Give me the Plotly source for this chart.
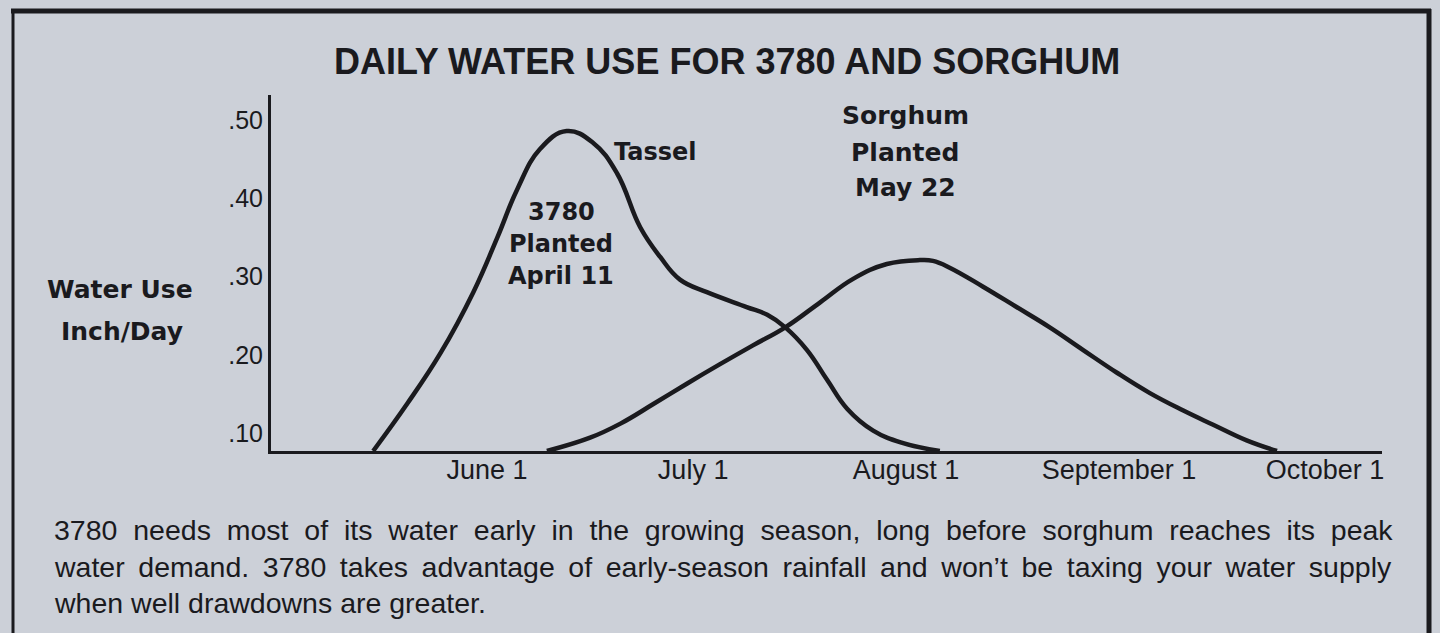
import plotly.graph_objects as go

# ---------------- data ----------------
dates_3780 = ["2023-05-15 10:00", "2023-05-20 10:00", "2023-05-25 05:00", "2023-05-30 00:00",
              "2023-06-02 12:00", "2023-06-05 10:00", "2023-06-08 17:00", "2023-06-12 14:00",
              "2023-06-16 10:00", "2023-06-19 22:00", "2023-06-23 07:00", "2023-06-26 05:00",
              "2023-06-29 02:00", "2023-07-03 00:00", "2023-07-08 19:00", "2023-07-11 19:00",
              "2023-07-14 10:00", "2023-07-17 14:00", "2023-07-20 12:00", "2023-07-23 10:00",
              "2023-07-27 05:00", "2023-07-31 14:00", "2023-08-05 22:00"]
use_3780 = [0.077, 0.138, 0.202, 0.280, 0.350, 0.412, 0.463, 0.486, 0.471, 0.432, 0.363, 0.325,
            0.296, 0.280, 0.261, 0.251, 0.235, 0.206, 0.168, 0.131, 0.103, 0.087, 0.077]

dates_sorghum = ["2023-06-09 17:00", "2023-06-16 00:00", "2023-06-20 10:00", "2023-06-25 05:00",
                 "2023-06-30 02:00", "2023-07-04 22:00", "2023-07-09 17:00", "2023-07-14 10:00",
                 "2023-07-19 12:00", "2023-07-24 07:00", "2023-07-29 05:00", "2023-08-03 00:00",
                 "2023-08-04 22:00", "2023-08-07 10:00", "2023-08-12 05:00", "2023-08-17 02:00",
                 "2023-08-21 22:00", "2023-08-26 19:00", "2023-08-31 17:00", "2023-09-05 12:00",
                 "2023-09-10 07:00", "2023-09-14 17:00", "2023-09-19 14:00", "2023-09-24 00:00"]
use_sorghum = [0.077, 0.094, 0.112, 0.137, 0.163, 0.188, 0.212, 0.235, 0.267, 0.297, 0.316, 0.321,
               0.320, 0.311, 0.287, 0.261, 0.235, 0.206, 0.177, 0.151, 0.129, 0.1105, 0.0905, 0.077]

x_tick_dates = ["2023-06-01", "2023-07-01", "2023-08-01", "2023-09-01", "2023-10-01"]
x_tick_labels = ["June 1", "July 1", "August 1", "September 1", "October 1"]
y_tick_values = [0.10, 0.20, 0.30, 0.40, 0.50]
y_tick_labels = [".10", ".20", ".30", ".40", ".50"]

title_text = "DAILY WATER USE FOR 3780 AND SORGHUM"
y_title_lines = ["Water Use", "Inch/Day"]
label_3780_lines = ["3780", "Planted", "April 11"]
label_sorghum_lines = ["Sorghum", "Planted", "May 22"]
label_tassel = "Tassel"
body_lines = [
    "3780 needs most of its water early in the growing season, long before sorghum reaches its peak",
    "water demand. 3780 takes advantage of early-season rainfall and won\u2019t be taxing your water supply",
    "when well drawdowns are greater.",
]
# extra word spacing used to imitate the justified paragraph of the original
body_word_gap = [" \u00a0", " \u2009", " "]

# ---------------- layout helpers ----------------
W, H = 1440, 633
L, R, T, B = 271, 1382, 95, 451          # plot area in pixels
BG = "#ccd0d8"
INK = "#1a1a1e"

def px(x):
    return (x - L) / (R - L)

def py(y):
    return (B - y) / (B - T)

fig = go.Figure()
fig.add_trace(go.Scatter(x=dates_3780, y=use_3780, mode="lines",
                         line=dict(color=INK, width=4.5, shape="spline", smoothing=1.2),
                         showlegend=False, hoverinfo="skip"))
fig.add_trace(go.Scatter(x=dates_sorghum, y=use_sorghum, mode="lines",
                         line=dict(color=INK, width=4.5, shape="spline", smoothing=1.2),
                         showlegend=False, hoverinfo="skip"))

SANS = "Liberation Sans, Arial, Helvetica, sans-serif"
BOLD = "DejaVu Sans, Verdana, sans-serif"

ann = []
ann.append(dict(text="<b>" + title_text + "</b>", x=px(727), y=py(61), xref="paper", yref="paper",
                xanchor="center", yanchor="middle", showarrow=False,
                font=dict(family=SANS, size=36, color=INK)))
for txt, yy, xx in zip(y_title_lines, [289, 331], [120, 122]):
    ann.append(dict(text="<b>" + txt + "</b>", x=px(xx), y=py(yy), xref="paper", yref="paper",
                    xanchor="center", yanchor="middle", showarrow=False,
                    font=dict(family=BOLD, size=25, color=INK)))
for txt, yy in zip(label_3780_lines, [212, 244, 276]):
    ann.append(dict(text="<b>" + txt + "</b>", x=px(561), y=py(yy), xref="paper", yref="paper",
                    xanchor="center", yanchor="middle", showarrow=False,
                    font=dict(family=BOLD, size=24, color=INK)))
for txt, yy in zip(label_sorghum_lines, [115, 152, 187]):
    ann.append(dict(text="<b>" + txt + "</b>", x=px(905), y=py(yy), xref="paper", yref="paper",
                    xanchor="center", yanchor="middle", showarrow=False,
                    font=dict(family=BOLD, size=25, color=INK)))
ann.append(dict(text="<b>" + label_tassel + "</b>", x=px(612), y=py(152), xref="paper", yref="paper",
                xanchor="left", yanchor="middle", showarrow=False,
                font=dict(family=BOLD, size=24, color=INK)))
for txt, gap, yy in zip(body_lines, body_word_gap, [530, 567, 603]):
    ann.append(dict(text=gap.join(txt.split(" ")), x=px(52), y=py(yy), xref="paper", yref="paper",
                    xanchor="left", yanchor="middle", showarrow=False,
                    font=dict(family=SANS, size=28.5, color=INK)))

shapes = [
    dict(type="line", xref="paper", yref="paper", x0=px(11), x1=px(1431), y0=py(11), y1=py(11),
         line=dict(color=INK, width=5)),
    dict(type="line", xref="paper", yref="paper", x0=px(13), x1=px(13), y0=py(9), y1=py(660),
         line=dict(color=INK, width=3)),
    dict(type="line", xref="paper", yref="paper", x0=px(1429), x1=px(1429), y0=py(9), y1=py(660),
         line=dict(color=INK, width=5)),
]

fig.update_layout(
    width=W, height=H,
    margin=dict(l=L, r=W - R, t=T, b=H - B, pad=0),
    paper_bgcolor=BG, plot_bgcolor=BG,
    annotations=ann, shapes=shapes,
    xaxis=dict(type="date", range=["2023-04-30 13:00", "2023-10-09 07:00"],
               tickvals=x_tick_dates, ticktext=x_tick_labels, ticks="",
               showgrid=False, zeroline=False, showline=True, linecolor=INK, linewidth=3,
               tickfont=dict(family=SANS, size=27, color=INK), ticklabelstandoff=-7),
    yaxis=dict(range=[0.077, 0.532], tickvals=y_tick_values, ticktext=y_tick_labels, ticks="",
               showgrid=False, zeroline=False, showline=True, linecolor=INK, linewidth=3,
               tickfont=dict(family=SANS, size=25, color=INK), ticklabelstandoff=0),
)

fig.write_html("out.html", config={"displayModeBar": False},
               post_script="document.body.style.margin='0';document.body.style.background='#ccd0d8';")
